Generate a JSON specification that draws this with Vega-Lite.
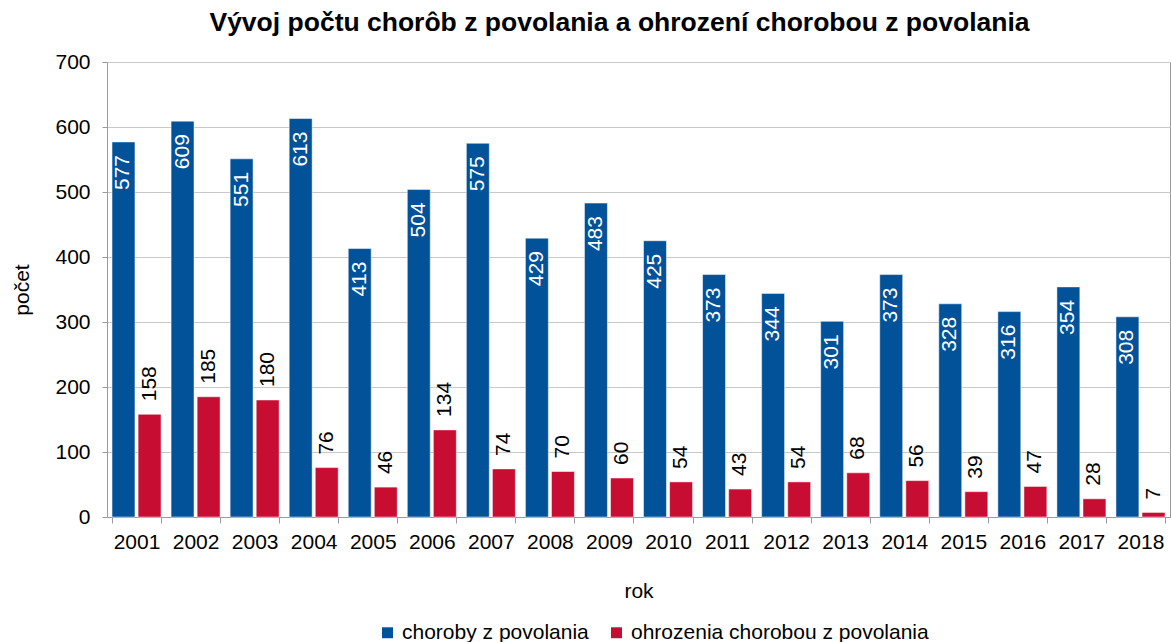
{
  "$schema": "https://vega.github.io/schema/vega-lite/v6.json",
  "autosize": {"type": "none"},
  "padding": {"left": 107, "top": 62, "right": 1, "bottom": 125},
  "width": 1063,
  "height": 455,
  "background": "white",
  "config": {
    "font": "Liberation Sans",
    "view": {"stroke": "#9a9a9a", "strokeWidth": 1},
    "axis": {"labelFont": "Liberation Sans", "titleFont": "Liberation Sans", "labelColor": "#000", "titleColor": "#000"}
  },
  "title": {
    "text": "Vývoj počtu chorôb z povolania a ohrození chorobou z povolania",
    "fontSize": 26.5,
    "fontWeight": "bold",
    "font": "Liberation Sans",
    "color": "#000",
    "anchor": "middle",
    "dx": -19,
    "offset": 15
  },
  "data": {
    "values": [
      {"rok": "2001", "seria": "choroby z povolania", "pocet": 577},
      {"rok": "2002", "seria": "choroby z povolania", "pocet": 609},
      {"rok": "2003", "seria": "choroby z povolania", "pocet": 551},
      {"rok": "2004", "seria": "choroby z povolania", "pocet": 613},
      {"rok": "2005", "seria": "choroby z povolania", "pocet": 413},
      {"rok": "2006", "seria": "choroby z povolania", "pocet": 504},
      {"rok": "2007", "seria": "choroby z povolania", "pocet": 575},
      {"rok": "2008", "seria": "choroby z povolania", "pocet": 429},
      {"rok": "2009", "seria": "choroby z povolania", "pocet": 483},
      {"rok": "2010", "seria": "choroby z povolania", "pocet": 425},
      {"rok": "2011", "seria": "choroby z povolania", "pocet": 373},
      {"rok": "2012", "seria": "choroby z povolania", "pocet": 344},
      {"rok": "2013", "seria": "choroby z povolania", "pocet": 301},
      {"rok": "2014", "seria": "choroby z povolania", "pocet": 373},
      {"rok": "2015", "seria": "choroby z povolania", "pocet": 328},
      {"rok": "2016", "seria": "choroby z povolania", "pocet": 316},
      {"rok": "2017", "seria": "choroby z povolania", "pocet": 354},
      {"rok": "2018", "seria": "choroby z povolania", "pocet": 308},
      {"rok": "2001", "seria": "ohrozenia chorobou z povolania", "pocet": 158},
      {"rok": "2002", "seria": "ohrozenia chorobou z povolania", "pocet": 185},
      {"rok": "2003", "seria": "ohrozenia chorobou z povolania", "pocet": 180},
      {"rok": "2004", "seria": "ohrozenia chorobou z povolania", "pocet": 76},
      {"rok": "2005", "seria": "ohrozenia chorobou z povolania", "pocet": 46},
      {"rok": "2006", "seria": "ohrozenia chorobou z povolania", "pocet": 134},
      {"rok": "2007", "seria": "ohrozenia chorobou z povolania", "pocet": 74},
      {"rok": "2008", "seria": "ohrozenia chorobou z povolania", "pocet": 70},
      {"rok": "2009", "seria": "ohrozenia chorobou z povolania", "pocet": 60},
      {"rok": "2010", "seria": "ohrozenia chorobou z povolania", "pocet": 54},
      {"rok": "2011", "seria": "ohrozenia chorobou z povolania", "pocet": 43},
      {"rok": "2012", "seria": "ohrozenia chorobou z povolania", "pocet": 54},
      {"rok": "2013", "seria": "ohrozenia chorobou z povolania", "pocet": 68},
      {"rok": "2014", "seria": "ohrozenia chorobou z povolania", "pocet": 56},
      {"rok": "2015", "seria": "ohrozenia chorobou z povolania", "pocet": 39},
      {"rok": "2016", "seria": "ohrozenia chorobou z povolania", "pocet": 47},
      {"rok": "2017", "seria": "ohrozenia chorobou z povolania", "pocet": 28},
      {"rok": "2018", "seria": "ohrozenia chorobou z povolania", "pocet": 7}
    ]
  },
  "encoding": {
    "x": {
      "field": "rok", "type": "nominal",
      "scale": {"paddingInner": 0.17, "paddingOuter": 0.085},
      "axis": {
        "title": "rok", "titleFontSize": 21, "titleFontWeight": "normal", "titlePadding": 28,
        "labelAngle": 0, "labelFontSize": 21, "labelPadding": 8,
        "tickBand": "extent", "tickSize": 6, "tickColor": "#9a9a9a",
        "domainColor": "#9a9a9a", "grid": false
      }
    },
    "xOffset": {"field": "seria", "type": "nominal", "scale": {"paddingInner": 0.12}},
    "y": {
      "field": "pocet", "type": "quantitative",
      "scale": {"domain": [0, 700]},
      "axis": {
        "title": "počet", "titleFontSize": 21, "titleFontWeight": "normal", "titlePadding": 22,
        "values": [0, 100, 200, 300, 400, 500, 600, 700],
        "labelFontSize": 21, "labelPadding": 12, "tickSize": 5, "tickColor": "#9a9a9a",
        "domainColor": "#9a9a9a", "gridColor": "#c8c8c8"
      }
    }
  },
  "layer": [
    {
      "mark": {"type": "bar", "stroke": "white", "strokeWidth": 0.5},
      "encoding": {
        "color": {
          "field": "seria", "type": "nominal",
          "scale": {"domain": ["choroby z povolania", "ohrozenia chorobou z povolania"], "range": ["#02529A", "#C70D32"]},
          "legend": {
            "title": null, "orient": "none", "direction": "horizontal",
            "legendX": 270, "legendY": 560,
            "symbolType": "square", "symbolSize": 120, "symbolStrokeWidth": 0,
            "labelFontSize": 21, "labelFont": "Liberation Sans", "labelColor": "#000",
            "labelOffset": 4, "columnPadding": 17, "labelLimit": 400
          }
        }
      }
    },
    {
      "transform": [{"filter": "datum.seria === 'choroby z povolania'"}],
      "mark": {"type": "text", "angle": 270, "align": "right", "baseline": "middle", "dx": -13, "fontSize": 21, "color": "white"},
      "encoding": {"text": {"field": "pocet", "type": "quantitative"}}
    },
    {
      "transform": [{"filter": "datum.seria === 'ohrozenia chorobou z povolania'"}],
      "mark": {"type": "text", "angle": 270, "align": "left", "baseline": "middle", "dx": 13, "fontSize": 21, "color": "black"},
      "encoding": {"text": {"field": "pocet", "type": "quantitative"}}
    }
  ]
}
